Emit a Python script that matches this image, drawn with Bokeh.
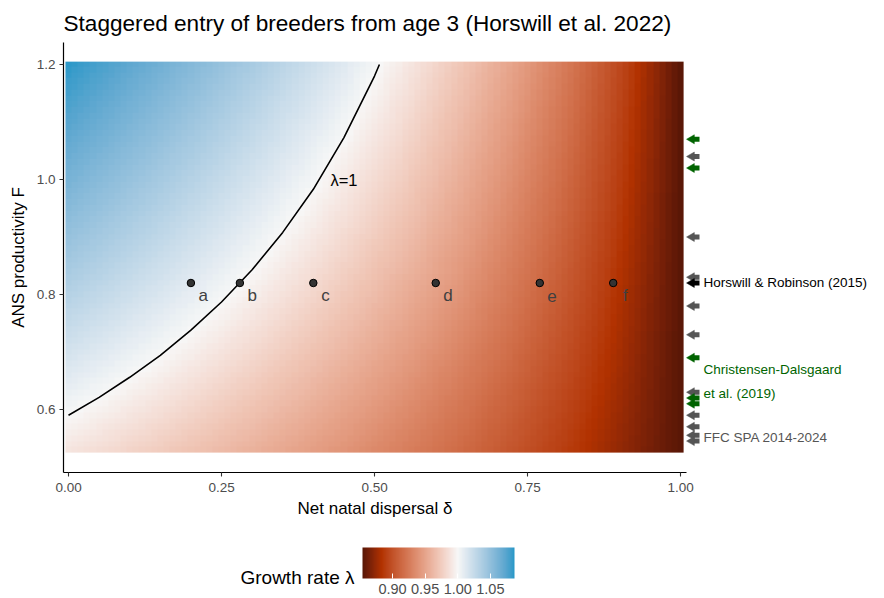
import numpy as np
from bokeh.plotting import figure
from bokeh.layouts import column
from bokeh.models import (LinearColorMapper, ColorBar, FixedTicker, PrintfTickFormatter,
                          ColumnDataSource, Range1d, AllLabels)
from bokeh.core.properties import value
from bokeh.embed import file_html
from bokeh.resources import INLINE

FONT = "Liberation Sans"

# ---------------- data ----------------
# heatmap tile centres
delta_cells = np.round(np.linspace(0.0, 1.0, 101), 2)
F_cells = np.round(np.linspace(0.53, 1.20, 68), 2)

# growth rate, as a function of local recruitment R = F * (1 - delta)
R_table = [0.0, 0.05, 0.1, 0.2, 0.3, 0.4, 0.5, 0.6, 0.7, 0.8, 0.9, 1.0, 1.1, 1.2]
lambda_table = [0.854, 0.8726, 0.8892, 0.918, 0.9427, 0.9644, 0.984, 1.0018,
                1.018, 1.0333, 1.0477, 1.0611, 1.0739, 1.086]

# lambda = 1 contour
contour_delta = [0.0, 0.05, 0.10, 0.15, 0.20, 0.25, 0.30, 0.35, 0.40, 0.45, 0.50, 0.508]
contour_F = [0.590, 0.621, 0.656, 0.694, 0.738, 0.787, 0.843, 0.908, 0.983, 1.073, 1.180, 1.200]
contour_text = "λ=1"

# scenarios a-f
scen_delta = [0.20, 0.28, 0.40, 0.60, 0.77, 0.89]
scen_F = [0.82, 0.82, 0.82, 0.82, 0.82, 0.82]
scen_label = ["a", "b", "c", "d", "e", "f"]

# productivity estimates from the literature (arrows on the right)
ffc_F = [1.04, 0.90, 0.83, 0.78, 0.73, 0.63, 0.59, 0.57, 0.555, 0.545]
cd_F = [1.07, 1.02, 0.69, 0.62, 0.61]
hr_F = [0.82]
source_names = ["FFC SPA 2014-2024", "Christensen-Dalsgaard\net al. (2019)", "Horswill & Robinson (2015)"]
source_label_F = [0.551, 0.648, 0.82]
source_colors = ["#555555", "#006400", "#000000"]

x_ticks = [0.0, 0.25, 0.5, 0.75, 1.0]
y_ticks = [0.6, 0.8, 1.0, 1.2]
legend_ticks = [0.90, 0.95, 1.00, 1.05]
lam_low, lam_high = 0.854, 1.087

# ---------------- colour scale (Lab interpolation, like ggplot) ----------------
stop_vals = [0.854, 0.883, 1.000, 1.087]
stop_cols = ["#5a1706", "#b23200", "#f7f7f7", "#2898c8"]

WP = np.array([0.95047, 1.0, 1.08883])
M = np.array([[0.4124, 0.3576, 0.1805], [0.2126, 0.7152, 0.0722], [0.0193, 0.1192, 0.9505]])
Minv = np.linalg.inv(M)


def hex_to_lab(h):
    c = np.array([int(h[i:i + 2], 16) for i in (1, 3, 5)]) / 255.0
    lin = np.where(c <= 0.04045, c / 12.92, ((c + 0.055) / 1.055) ** 2.4)
    xyz = M @ lin / WP
    d = 6 / 29
    f = np.where(xyz > d ** 3, np.cbrt(xyz), xyz / (3 * d * d) + 4 / 29)
    return np.array([116 * f[1] - 16, 500 * (f[0] - f[1]), 200 * (f[1] - f[2])])


def lab_to_hex(lab):
    L, a, b = lab
    fy = (L + 16) / 116
    f = np.array([fy + a / 500, fy, fy - b / 200])
    d = 6 / 29
    xyz = np.where(f > d, f ** 3, 3 * d * d * (f - 4 / 29)) * WP
    lin = np.clip(Minv @ xyz, 0, 1)
    c = np.where(lin <= 0.0031308, 12.92 * lin, 1.055 * lin ** (1 / 2.4) - 0.055)
    c = np.clip(np.round(c * 255), 0, 255).astype(int)
    return "#%02x%02x%02x" % tuple(c)


labs = np.array([hex_to_lab(c) for c in stop_cols])
vals = np.linspace(lam_low, lam_high, 256)
palette = [lab_to_hex([np.interp(v, stop_vals, labs[:, k]) for k in range(3)]) for v in vals]
mapper = LinearColorMapper(palette=palette, low=lam_low, high=lam_high)

# ---------------- main figure ----------------
p = figure(frame_width=813, frame_height=430,
           x_range=Range1d(-0.0082, 1.3202), y_range=Range1d(0.4904, 1.2383),
           output_backend="svg", toolbar_location=None,
           min_border_left=63, min_border_right=0, min_border_top=42, min_border_bottom=26,
           title="Staggered entry of breeders from age 3 (Horswill et al. 2022)")
p.title.text_font = FONT
p.title.text_font_size = "22.6px"
p.title.text_font_style = "normal"
p.title.text_color = "black"
p.title.align = "left"
p.title.standoff = 13
p.grid.visible = False
p.outline_line_color = None
p.background_fill_color = "white"
p.border_fill_color = "white"

# heatmap
R = F_cells[:, None] * (1 - delta_cells[None, :])
lam = np.interp(R, R_table, lambda_table)
p.image(image=[lam], x=-0.005, y=0.525, dw=1.01, dh=0.68, color_mapper=mapper)

# contour
p.line(contour_delta, contour_F, line_color="black", line_width=1.6)
p.text(x=[0.45], y=[1.0], text=[contour_text], text_font=value(FONT), text_font_size="16.5px",
       text_align="center", text_baseline="middle", text_color="black")

# scenarios
p.scatter(scen_delta, scen_F, size=7.5, fill_color="#333333", line_color="black", line_width=1)
p.text(x=[d + 0.02 for d in scen_delta], y=[f - 0.022 for f in scen_F], text=scen_label,
       text_font=value(FONT), text_font_size="17px", text_color="#404040",
       text_align="center", text_baseline="middle")

# arrows
for Fs, col in [(ffc_F, source_colors[0]), (cd_F, source_colors[1]), (hr_F, source_colors[2])]:
    src = ColumnDataSource(dict(y=Fs, x0=[1.0196] * len(Fs), x1=[1.031] * len(Fs),
                                xh=[1.0183] * len(Fs)))
    p.segment(x0="x0", x1="x1", y0="y", y1="y", source=src, line_color=col, line_width=5,
              line_cap="butt")
    p.scatter(x="xh", y="y", source=src, marker="triangle", size=9, angle=np.pi / 2,
              fill_color=col, line_color=col, line_width=0.5)

p.text(x=[1.0376] * 3, y=source_label_F, text=source_names, text_color=source_colors,
       text_font=value(FONT), text_font_size="13.5px", text_align="left",
       text_baseline="middle", text_line_height=1.6)

# axes
for ax in (p.xaxis[0], p.yaxis[0]):
    ax.axis_line_color = "black"
    ax.axis_line_width = 1.2
    ax.major_tick_line_color = "#333333"
    ax.major_tick_line_width = 1.1
    ax.major_tick_out = 4
    ax.major_tick_in = 0
    ax.minor_tick_line_color = None
    ax.major_label_text_font = FONT
    ax.major_label_text_font_size = "13.5px"
    ax.major_label_text_color = "#4d4d4d"
    ax.axis_label_text_font = FONT
    ax.axis_label_text_font_size = "17px"
    ax.axis_label_text_font_style = "normal"
    ax.axis_label_text_color = "black"

p.xaxis.ticker = FixedTicker(ticks=x_ticks)
p.xaxis.formatter = PrintfTickFormatter(format="%.2f")
p.xaxis.bounds = (-0.0082, 1.01)
p.xaxis.major_label_standoff = 6
p.yaxis.ticker = FixedTicker(ticks=y_ticks)
p.yaxis.formatter = PrintfTickFormatter(format="%.1f")
p.yaxis.major_label_standoff = 4
p.yaxis.axis_label = "ANS productivity F"
p.yaxis.axis_label_standoff = 6

# ---------------- x-axis title and colour legend (strip below) ----------------
q = figure(frame_width=810, frame_height=99, x_range=Range1d(63, 873), y_range=Range1d(597, 498),
           output_backend="svg", toolbar_location=None, min_border=0, min_border_left=63,
           x_axis_location=None, y_axis_location=None)
q.grid.visible = False
q.outline_line_color = None
q.background_fill_color = "white"
q.border_fill_color = "white"
q.text(x=[374.5], y=[508], text=["Net natal dispersal δ"], text_font=value(FONT),
       text_font_size="17px", text_color="black", text_align="center", text_baseline="middle")
q.text(x=[354], y=[577], text=["Growth rate λ"], text_font=value(FONT),
       text_font_size="19px", text_color="black", text_align="right", text_baseline="alphabetic")

cb = ColorBar(color_mapper=mapper, orientation="horizontal", width=152, height=31,
              ticker=FixedTicker(ticks=legend_ticks),
              formatter=PrintfTickFormatter(format="%.2f"),
              major_label_policy=AllLabels(),
              major_label_text_font=FONT, major_label_text_font_size="14.5px",
              major_label_text_color="#4d4d4d",
              major_tick_line_color="white", major_tick_in=5, major_tick_out=0,
              minor_tick_line_color=None, bar_line_color=None, border_line_color=None,
              background_fill_color=None, padding=0, margin=0, label_standoff=5,
              location=(299, 1))
q.add_layout(cb)

layout = column(p, q, spacing=0)

with open("out.html", "w", encoding="utf-8") as fh:
    fh.write(file_html(layout, INLINE))
